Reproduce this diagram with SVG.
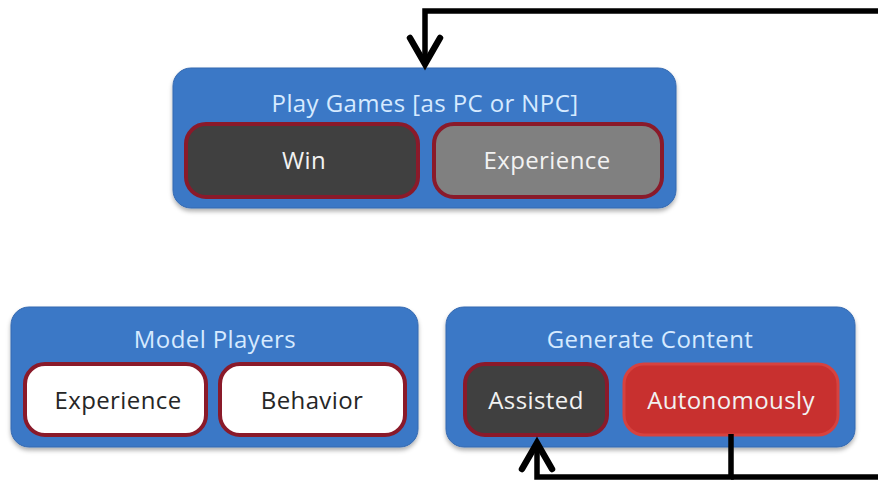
<svg xmlns="http://www.w3.org/2000/svg" width="878" height="481" viewBox="0 0 878 481">
<style>
  .box { fill: #3b78c6; stroke: #3569b0; stroke-width: 1; filter: url(#sh); }
  .title { font-family: "Open Sans", "Liberation Sans", sans-serif; font-size: 24px; letter-spacing: 0.4px; fill: #d6eaff; text-anchor: middle; }
  .pill { stroke: #8a1a2a; stroke-width: 4; }
  .dark { fill: #404040; }
  .gray { fill: #808080; }
  .white { fill: #ffffff; }
  .red { fill: #c8302f; stroke: #d6423f; stroke-width: 3; }
  .lbl { font-family: "Open Sans", "Liberation Sans", sans-serif; font-size: 24px; letter-spacing: 0.4px; text-anchor: middle; fill: #f2f2f2; }
  .lbl.blk { fill: #262626; }
  .conn { fill: none; stroke: #000; stroke-width: 5.5; stroke-linejoin: miter; }
</style>
<defs>
  <filter id="sh" x="-5%" y="-5%" width="110%" height="120%">
    <feDropShadow dx="0" dy="3" stdDeviation="2" flood-color="#000" flood-opacity="0.3"/>
  </filter>
  <marker id="arr" markerUnits="userSpaceOnUse" viewBox="-32 -20 36 40" refX="0" refY="0" markerWidth="36" markerHeight="40" orient="auto" overflow="visible">
    <path d="M-26,-15 L0,0 L-26,15" fill="none" stroke="#000" stroke-width="6.5" stroke-linecap="round" stroke-linejoin="miter"/>
  </marker>
</defs>
<rect width="878" height="481" fill="#ffffff"/>

<g id="node-play-games">
  <rect class="box" x="173" y="68" width="503" height="140" rx="18"/>
  <text class="title" x="425" y="112">Play Games [as PC or NPC]</text>
  <g id="node-win">
    <rect class="pill dark" x="186" y="124" width="232" height="73" rx="20"/>
    <text class="lbl" x="304" y="169">Win</text>
  </g>
  <g id="node-play-experience">
    <rect class="pill gray" x="434" y="124" width="228" height="73" rx="20"/>
    <text class="lbl" x="547" y="169">Experience</text>
  </g>
</g>

<g id="node-model-players">
  <rect class="box" x="11" y="307" width="407" height="140" rx="18"/>
  <text class="title" x="215" y="348">Model Players</text>
  <g id="node-model-experience">
    <rect class="pill white" x="25" y="364" width="181" height="71" rx="20"/>
    <text class="lbl blk" x="118" y="409">Experience</text>
  </g>
  <g id="node-behavior">
    <rect class="pill white" x="220" y="364" width="185" height="71" rx="20"/>
    <text class="lbl blk" x="312" y="409">Behavior</text>
  </g>
</g>

<g id="node-generate-content">
  <rect class="box" x="446" y="307" width="409" height="140" rx="18"/>
  <text class="title" x="650" y="348">Generate Content</text>
  <g id="node-assisted">
    <rect class="pill dark" x="465" y="364" width="142" height="71" rx="20"/>
    <text class="lbl" x="536" y="409">Assisted</text>
  </g>
  <g id="node-autonomously">
    <rect class="red" x="624" y="364" width="214" height="71" rx="20"/>
    <text class="lbl" x="731" y="409">Autonomously</text>
  </g>
</g>

<g id="connectors">
  <path class="conn" d="M878,11 H425 V64" marker-end="url(#arr)"/>
  <path class="conn" d="M731,434 V477 H537 V443" marker-end="url(#arr)"/>
  <path class="conn" d="M731,477 H878"/>
</g>
</svg>
